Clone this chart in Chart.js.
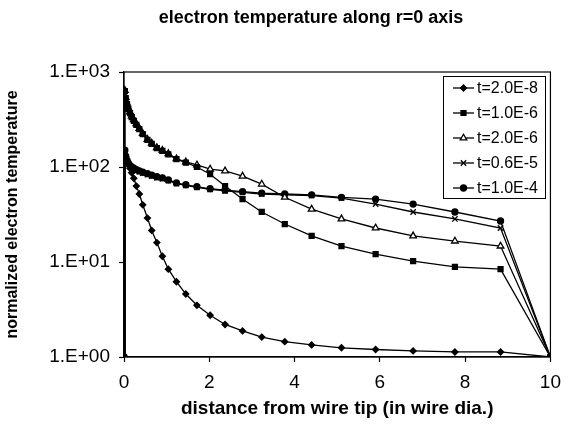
<!DOCTYPE html>
<html>
<head>
<meta charset="utf-8">
<script src="https://cdn.jsdelivr.net/npm/chart.js@4.4.1/dist/chart.umd.min.js"></script>
<style>
  html, body { margin: 0; padding: 0; background: #fff; }
  #cadre { width: 570px; height: 439px; }
</style>
</head>
<body>
<div id="cadre"><canvas id="graphique-te" width="570" height="439"></canvas></div>
<script>
// distance from the wire tip, in wire diameters (shared mesh)
const distances = [0, 0.02, 0.04, 0.07, 0.1, 0.14, 0.18, 0.23, 0.29, 0.36, 0.44, 0.55, 0.65, 0.77, 0.9,
  1.04, 1.23, 1.45, 1.71, 2.02, 2.37, 2.78, 3.23, 3.77, 4.4, 5.1, 5.9, 6.78, 7.76, 8.83, 10];

// normalized electron temperature, one list per time
const te_2e8 = [1, 135, 128, 118, 108, 97, 87, 76, 63, 52, 40, 29, 21.5, 16, 11.5,
  8.4, 6.2, 4.6, 3.5, 2.75, 2.2, 1.88, 1.62, 1.45, 1.34, 1.25, 1.2, 1.16, 1.13, 1.13, 1];
const te_1e6 = [1, 630, 530, 460, 410, 370, 335, 305, 278, 250, 222, 193, 175, 158, 148,
  136, 121, 111, 100, 84, 63, 46, 33.6, 25.1, 18.8, 14.7, 12.1, 10.2, 8.9, 8.4, 1];
const te_2e6 = [1, 640, 540, 470, 420, 380, 345, 315, 285, 255, 225, 195, 178, 160, 150,
  138, 122, 113, 105, 95, 91, 80, 66, 48, 36, 28.4, 22.8, 18.8, 16.6, 14.7, 1];
const te_6e6 = [1, 148, 128, 116, 108, 102, 98, 95, 92, 89, 86, 83, 80, 77, 75,
  72, 67, 64, 61, 58, 56, 54, 52, 51, 50, 47, 40.7, 33.6, 28.4, 22.8, 1];
const te_1e4 = [1, 150, 130, 118, 110, 104, 100, 97, 94, 91, 88, 85, 82, 79, 77,
  73, 68, 65, 62, 59, 57, 55, 53, 52, 51, 48, 46, 40.7, 33.6, 27, 1];

const seriesLabels = ["t=2.0E-8", "t=1.0E-6", "t=2.0E-6", "t=0.6E-5", "t=1.0E-4"];
const yTicks = [1, 10, 100, 1000];
const yTickLabels = ["1.E+00", "1.E+01", "1.E+02", "1.E+03"];
const xTicks = [0, 2, 4, 6, 8, 10];

const POLICE = "'Liberation Sans', Arial, sans-serif";

// marker look for each series
const marqueurs = [
  { pointStyle: "rectRot", radius: 3, fond: "#000" },
  { pointStyle: "rect", radius: 3.5, fond: "#000" },
  { pointStyle: "triangle", radius: 3.8, fond: "#fff" },
  { pointStyle: "crossRot", radius: 3.8, fond: "#000" },
  { pointStyle: "circle", radius: 3, fond: "#000" }
];

function serie(valeurs, i) {
  return {
    label: seriesLabels[i],
    data: distances.map((d, k) => ({ x: d, y: valeurs[k] })),
    borderColor: "#000",
    borderWidth: 1.3,
    backgroundColor: marqueurs[i].fond,
    pointStyle: marqueurs[i].pointStyle,
    pointRadius: marqueurs[i].radius,
    pointBorderColor: "#000",
    pointBackgroundColor: marqueurs[i].fond,
    pointBorderWidth: 1.3,
    tension: 0,
    fill: false
  };
}

// title, frame of the plot area and the boxed legend
const decor = {
  id: "decor",
  afterDraw(chart) {
    const ctx = chart.ctx;
    const a = chart.chartArea;
    ctx.save();
    ctx.strokeStyle = "#000";
    ctx.lineWidth = 1.2;
    ctx.strokeRect(a.left, a.top, a.right - a.left, a.bottom - a.top);

    ctx.fillStyle = "#000";
    ctx.font = "bold 18px " + POLICE;
    ctx.textAlign = "center";
    ctx.textBaseline = "middle";
    ctx.fillText("electron temperature along r=0 axis", 311, 18);

    // legend box
    const bx = 443, by = 76, bw = 102, bh = 122;
    ctx.fillStyle = "#fff";
    ctx.fillRect(bx, by, bw, bh);
    ctx.lineWidth = 1;
    ctx.strokeRect(bx + 0.5, by + 0.5, bw, bh);
    ctx.font = "16px " + POLICE;
    ctx.textAlign = "left";
    chart.data.datasets.forEach((ds, i) => {
      const y = 88 + i * 25;
      ctx.strokeStyle = "#000";
      ctx.lineWidth = 1.3;
      ctx.beginPath();
      ctx.moveTo(453, y);
      ctx.lineTo(474, y);
      ctx.stroke();
      ctx.fillStyle = ds.pointBackgroundColor;
      Chart.helpers.drawPoint(ctx, {
        pointStyle: ds.pointStyle, radius: ds.pointRadius, rotation: 0, borderWidth: 1.3
      }, 463.5, y);
      ctx.fillStyle = "#000";
      ctx.fillText(ds.label, 477, y + 1);
    });
    ctx.restore();
  }
};

new Chart(document.querySelector("#graphique-te"), {
  type: "line",
  data: {
    datasets: [te_2e8, te_1e6, te_2e6, te_6e6, te_1e4].map(serie)
  },
  options: {
    responsive: false,
    animation: false,
    devicePixelRatio: 1,
    layout: { padding: { left: 0, right: 11, top: 72, bottom: 0 } },
    plugins: {
      legend: { display: false },
      title: { display: false },
      tooltip: { enabled: false }
    },
    scales: {
      x: {
        type: "linear",
        min: 0,
        max: 10,
        afterBuildTicks: (axe) => { axe.ticks = xTicks.map(v => ({ value: v })); },
        afterFit: (axe) => { axe.height = 82; },
        grid: { drawOnChartArea: false, drawTicks: true, tickLength: 5, color: "#000", tickWidth: 1.2 },
        border: { color: "#000", width: 1.2 },
        ticks: { color: "#000", font: { family: POLICE, size: 19 }, padding: 9, maxRotation: 0 },
        title: {
          display: true,
          text: "distance from wire tip (in wire dia.)",
          color: "#000",
          font: { family: POLICE, size: 19, weight: "bold" },
          padding: { top: 0, bottom: 19 }
        }
      },
      y: {
        type: "logarithmic",
        min: 1,
        max: 1000,
        afterBuildTicks: (axe) => { axe.ticks = yTicks.map(v => ({ value: v })); },
        afterFit: (axe) => { axe.width = 124; },
        grid: { drawOnChartArea: false, drawTicks: true, tickLength: 5, color: "#000", tickWidth: 1.2 },
        border: { color: "#000", width: 1.2 },
        ticks: {
          color: "#000",
          font: { family: POLICE, size: 19 },
          padding: 9,
          callback: (v) => yTickLabels[yTicks.indexOf(v)]
        },
        title: {
          display: true,
          text: "normalized electron temperature",
          color: "#000",
          font: { family: POLICE, size: 16, weight: "bold" },
          padding: { top: 3, bottom: 0 }
        }
      }
    }
  },
  plugins: [decor]
});
</script>
</body>
</html>
